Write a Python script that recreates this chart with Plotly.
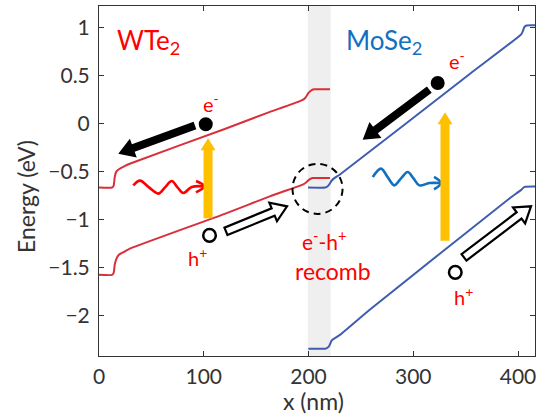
import math
import plotly.graph_objects as go

# ---------------- data ----------------
wte2_cb_x = [0, 12.5, 14, 15, 16.5, 19, 24, 30, 120, 160, 194, 197, 200, 203, 206, 220.5]
wte2_cb_y = [-0.665, -0.665, -0.645, -0.56, -0.50, -0.475, -0.445, -0.415, -0.056, 0.11, 0.245, 0.27, 0.32, 0.35, 0.357, 0.357]

wte2_vb_x = [0, 12.5, 14, 15, 16.5, 19, 24, 30, 120, 163, 195, 198, 201, 204, 220.5]
wte2_vb_y = [-1.575, -1.575, -1.555, -1.47, -1.41, -1.365, -1.335, -1.30, -0.94, -0.757, -0.632, -0.61, -0.58, -0.567, -0.567]

mose2_cb_x = [199.5, 216, 218, 220, 222, 225, 230, 354.2, 403, 404.5, 406, 408, 416.2]
mose2_cb_y = [-0.665, -0.665, -0.655, -0.63, -0.595, -0.565, -0.53, 0.52, 0.93, 0.96, 1.005, 1.022, 1.024]

mose2_vb_x = [199.8, 215.8, 218, 220, 222, 225, 230, 258.7, 392.4, 403, 405, 407, 416.2]
mose2_vb_y = [-2.344, -2.344, -2.334, -2.31, -2.26, -2.235, -2.20, -1.935, -0.775, -0.69, -0.668, -0.658, -0.656]

x_ticks = [0, 100, 200, 300, 400]
y_ticks = [-2, -1.5, -1, -0.5, 0, 0.5, 1]
XR = [0, 416.2]
YR = [-2.42, 1.225]
interface = [199.3, 221.2]

# decorations (data units)
red_wave_x = [32.74, 39.14, 47.73, 56.61, 63.01, 69.40, 74.94, 80.48, 88.50, 100.24]
red_wave_y = [-0.643, -0.594, -0.664, -0.729, -0.664, -0.598, -0.664, -0.723, -0.660, -0.653]
red_head_x = [92.6, 100.53, 92.6]
red_head_y = [-0.598, -0.653, -0.716]
blue_wave_x = [261.29, 269.21, 275.42, 281.91, 288.31, 294.70, 300.24, 305.78, 315.32, 326.49]
blue_wave_y = [-0.556, -0.469, -0.554, -0.643, -0.570, -0.504, -0.570, -0.643, -0.619, -0.619]
blue_head_x = [319.81, 326.49, 319.81]
blue_head_y = [-0.554, -0.619, -0.684]

# ---------------- layout geometry ----------------
W, H = 536, 417
ML, MR, MT, MB = 99, 1, 6, 61
PW, PH = W - ML - MR, H - MT - MB

def d2p(x, y):
    return (ML + (x - XR[0]) / (XR[1] - XR[0]) * PW,
            MT + (YR[1] - y) / (YR[1] - YR[0]) * PH)

def p2d(px, py):
    return (XR[0] + (px - ML) / PW * (XR[1] - XR[0]),
            YR[1] - (py - MT) / PH * (YR[1] - YR[0]))

def arrow_path(x0, y0, x1, y1, sw, hw, hl):
    p0 = d2p(x0, y0)
    p1 = d2p(x1, y1)
    dx, dy = p1[0] - p0[0], p1[1] - p0[1]
    L = math.hypot(dx, dy)
    ux, uy = dx / L, dy / L
    nx, ny = -uy, ux
    bx, by = p1[0] - ux * hl, p1[1] - uy * hl
    pts = [(p0[0] + nx * sw / 2, p0[1] + ny * sw / 2),
           (bx + nx * sw / 2, by + ny * sw / 2),
           (bx + nx * hw / 2, by + ny * hw / 2),
           p1,
           (bx - nx * hw / 2, by - ny * hw / 2),
           (bx - nx * sw / 2, by - ny * sw / 2),
           (p0[0] - nx * sw / 2, p0[1] - ny * sw / 2)]
    dpts = [p2d(*p) for p in pts]
    return "M " + " L ".join(f"{a:.4f},{b:.5f}" for a, b in dpts) + " Z"

def circle(cx, cy, r_px, **kw):
    kx = PW / (XR[1] - XR[0])
    ky = PH / (YR[1] - YR[0])
    return dict(type="circle", xref="x", yref="y",
                x0=cx - r_px / kx, x1=cx + r_px / kx,
                y0=cy - r_px / ky, y1=cy + r_px / ky, **kw)

RED_LINE = "#d8303a"
BLUE_LINE = "#3f5cb0"
RED_TXT = "#ff0000"
BLUE_TXT = "#1170c0"
YEL = "#ffc000"
FONT = "Lato"

fig = go.Figure()
for xs, ys, c in [(wte2_cb_x, wte2_cb_y, RED_LINE), (wte2_vb_x, wte2_vb_y, RED_LINE),
                  (mose2_cb_x, mose2_cb_y, BLUE_LINE), (mose2_vb_x, mose2_vb_y, BLUE_LINE)]:
    fig.add_trace(go.Scatter(x=xs, y=ys, mode="lines",
                             line=dict(color=c, width=2, shape="spline", smoothing=0.5),
                             hoverinfo="skip", showlegend=False, cliponaxis=True))

for xs, ys, c in [(red_wave_x, red_wave_y, RED_TXT), (red_head_x, red_head_y, RED_TXT),
                  (blue_wave_x, blue_wave_y, BLUE_TXT), (blue_head_x, blue_head_y, BLUE_TXT)]:
    fig.add_trace(go.Scatter(x=xs, y=ys, mode="lines",
                             line=dict(color=c, width=2.6, shape="spline"),
                             hoverinfo="skip", showlegend=False))

shapes = [
    dict(type="rect", xref="x", yref="paper", x0=interface[0], x1=interface[1], y0=0, y1=1,
         fillcolor="#efefef", line=dict(width=0), layer="below"),
    # black electron arrows
    dict(type="path", xref="x", yref="y", path=arrow_path(91.6, -0.019, 18.4, -0.3125, 8, 20, 16),
         fillcolor="black", line=dict(width=0)),
    dict(type="path", xref="x", yref="y", path=arrow_path(315.3, 0.354, 251.7, -0.167, 8, 20, 16),
         fillcolor="black", line=dict(width=0)),
    # yellow excitation arrows
    dict(type="path", xref="x", yref="y", path=arrow_path(104.1, -0.986, 104.1, -0.153, 9, 15, 12),
         fillcolor=YEL, line=dict(width=0)),
    dict(type="path", xref="x", yref="y", path=arrow_path(330.3, -1.219, 330.3, 0.118, 9, 15, 12),
         fillcolor=YEL, line=dict(width=0)),
    # hollow hole arrows
    dict(type="path", xref="x", yref="y", path=arrow_path(121.2, -1.122, 179.5, -0.861, 8, 20, 15),
         fillcolor="white", line=dict(color="black", width=2.2)),
    dict(type="path", xref="x", yref="y", path=arrow_path(348.4, -1.393, 412.4, -0.861, 8, 20, 15),
         fillcolor="white", line=dict(color="black", width=2.2)),
    # dots
    circle(101.9, -0.007, 7, fillcolor="black", line=dict(width=0)),
    circle(323.3, 0.423, 7, fillcolor="black", line=dict(width=0)),
    circle(105.5, -1.164, 6.3, fillcolor="white", line=dict(color="black", width=2.5)),
    circle(340.1, -1.549, 6.3, fillcolor="white", line=dict(color="black", width=2.5)),
    # recombination circle
    dict(type="circle", xref="x", yref="y", x0=184.7, x1=232.5, y0=-0.94, y1=-0.419,
         line=dict(color="black", width=2, dash="7px,5px")),
]

def txt(x, y, s, size, color, xanchor="center"):
    return dict(x=x, y=y, xref="x", yref="y", text=s, showarrow=False,
                font=dict(family=FONT, size=size, color=color), xanchor=xanchor, yanchor="middle")

annotations = [
    txt(15.3, 0.86, "WTe<sub>2</sub>", 26, RED_TXT, "left"),
    txt(233.9, 0.86, "MoSe<sub>2</sub>", 26, BLUE_TXT, "left"),
    txt(106.9, 0.21, "e<sup>-</sup>", 20, RED_TXT),
    txt(341.8, 0.659, "e<sup>-</sup>", 20, RED_TXT),
    txt(93.6, -1.393, "h<sup>+</sup>", 20, RED_TXT),
    txt(347.5, -1.799, "h<sup>+</sup>", 20, RED_TXT),
    txt(214.8, -1.216, "e<sup>-</sup>-h<sup>+</sup>", 21, RED_TXT),
    txt(223.4, -1.539, "recomb", 23, RED_TXT),
    dict(x=(313.5 - ML) / PW, y=1 - (401 - MT) / PH, xref="paper", yref="paper",
         text="x (nm)", showarrow=False, font=dict(family=FONT, size=23, color="#333333"),
         xanchor="center", yanchor="middle"),
    dict(x=(26 - ML) / PW, y=1 - (197 - MT) / PH, xref="paper", yref="paper",
         text="Energy (eV)", showarrow=False, textangle=-90,
         font=dict(family=FONT, size=23, color="#333333"),
         xanchor="center", yanchor="middle"),
]

axis_common = dict(showline=True, linecolor="#333333", linewidth=1, mirror="ticks",
                   ticks="inside", ticklen=5, tickcolor="#333333", showgrid=False, zeroline=False,
                   automargin=False, ticklabeloverflow="allow",
                   tickfont=dict(family=FONT, size=21, color="#333333"))

fig.update_layout(
    width=W, height=H, margin=dict(l=ML, r=MR, t=MT, b=MB, autoexpand=False),
    paper_bgcolor="white", plot_bgcolor="white",
    xaxis=dict(range=XR, tickvals=x_ticks, ticklabelstandoff=2, **axis_common),
    yaxis=dict(range=YR, tickvals=y_ticks, ticklabelstandoff=4, **axis_common),
    shapes=shapes, annotations=annotations, showlegend=False,
)

fig.write_html("out.html", config={"displayModeBar": False},
               post_script="document.body.style.margin='0';document.body.style.padding='0';"
                           "document.body.style.overflow='hidden';")
